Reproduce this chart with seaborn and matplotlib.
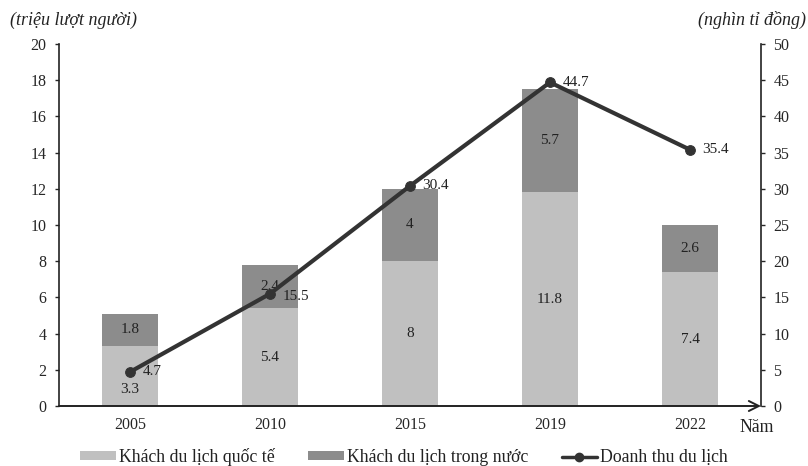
import numpy as np
import pandas as pd
import matplotlib
matplotlib.use("Agg")
import matplotlib.pyplot as plt
import seaborn as sns
from matplotlib.patches import Patch
from matplotlib.lines import Line2D

years = ["2005", "2010", "2015", "2019", "2022"]
intl = [3.3, 5.4, 8.0, 11.8, 7.4]
domestic = [1.8, 2.4, 4.0, 5.7, 2.6]
revenue = [4.7, 15.5, 30.4, 44.7, 35.4]
left_ticks = list(range(0, 21, 2))
right_ticks = list(range(0, 51, 5))

sns.set_theme(style="white")
plt.rcParams["font.family"] = ["Liberation Serif", "DejaVu Serif"]
plt.rcParams["text.color"] = "#222222"

light = "#c0c0c0"
dark = "#8c8c8c"
line_c = "#333333"
fs_tick = 11.5
fs_lab = 11
fs_title = 13
fs_leg = 12.8

total = [a + b for a, b in zip(intl, domestic)]
df = pd.DataFrame({"year": years, "intl": intl, "domestic": domestic,
                   "total": total, "revenue": revenue})

fig = plt.figure(figsize=(8.08, 4.66), dpi=100)
ax = fig.add_axes([59 / 808, 60 / 466, (761 - 59) / 808, (406 - 44) / 466])

sns.barplot(data=df, x="year", y="total", color=dark, saturation=1,
            width=0.4, ax=ax, edgecolor="none", linewidth=0)
sns.barplot(data=df, x="year", y="intl", color=light, saturation=1,
            width=0.4, ax=ax, edgecolor="none", linewidth=0)

ax.set_ylim(0, 20)
ax.set_xlim(-0.507, 4.507)
ax.set_yticks(left_ticks)
ax.set_yticklabels([str(t) for t in left_ticks], fontsize=fs_tick)
ax.set_xlabel("")
ax.set_ylabel("")
ax.tick_params(axis="x", length=0, labelsize=fs_tick, pad=8)
ax.tick_params(axis="y", length=3, width=1, direction="out", pad=6, left=True)
for s in ["top", "right"]:
    ax.spines[s].set_visible(False)
ax.spines["left"].set_color("#222222")
ax.spines["left"].set_linewidth(1.2)
ax.spines["bottom"].set_visible(False)

# stacked segment labels
for i, (a, b) in enumerate(zip(intl, domestic)):
    ya = a / 2 if i != 0 else 0.9
    ax.text(i, ya, f"{a:g}", ha="center", va="center", fontsize=fs_lab)
    ax.text(i, a + b / 2, f"{b:g}", ha="center", va="center", fontsize=fs_lab)

ax2 = ax.twinx()
sns.lineplot(x=np.arange(len(years)), y=revenue, ax=ax2, color=line_c,
             linewidth=3, marker="o", markersize=7, markeredgecolor=line_c)
ax2.set_ylim(0, 50)
ax2.set_xlim(-0.507, 4.507)
ax2.set_yticks(right_ticks)
ax2.set_yticklabels([str(t) for t in right_ticks], fontsize=fs_tick)
ax2.tick_params(axis="y", length=3, width=1, direction="out", pad=6, right=True)
for s in ["top", "left", "bottom"]:
    ax2.spines[s].set_visible(False)
ax2.spines["right"].set_color("#222222")
ax2.spines["right"].set_linewidth(1.2)

for i, r in enumerate(revenue):
    dy = -2 if i == 1 else 0
    ax2.annotate(f"{r:g}", (i, r), xytext=(9, dy), textcoords="offset points",
                 ha="left", va="center", fontsize=fs_lab)

# x axis with arrow
ax.annotate("", xy=(1.0, 0), xytext=(0, 0), xycoords="axes fraction",
            textcoords="axes fraction",
            arrowprops=dict(arrowstyle="->", color="#222222", lw=1.4,
                            mutation_scale=18, shrinkA=0, shrinkB=0))

fig.text(10 / 808, 1 - 20 / 466, "(triệu lượt người)", style="italic",
         fontsize=fs_title, ha="left", va="center")
fig.text(806 / 808, 1 - 20 / 466, "(nghìn tỉ đồng)", style="italic",
         fontsize=fs_title, ha="right", va="center")
fig.text(757 / 808, 1 - 428 / 466, "Năm", fontsize=fs_leg, ha="center", va="center")

handles = [Patch(facecolor=light, edgecolor="none"),
           Patch(facecolor=dark, edgecolor="none"),
           Line2D([0], [0], color=line_c, lw=2.5, marker="o", markersize=6)]
labels = ["Khách du lịch quốc tế", "Khách du lịch trong nước", "Doanh thu du lịch"]
fig.legend(handles, labels, loc="center", bbox_to_anchor=(404 / 808, 1 - 457 / 466),
           ncol=3, frameon=False, fontsize=fs_leg, handlelength=2.0,
           handletextpad=0.17, columnspacing=1.9, handleheight=0.4)

fig.savefig("out.png", dpi=100)
